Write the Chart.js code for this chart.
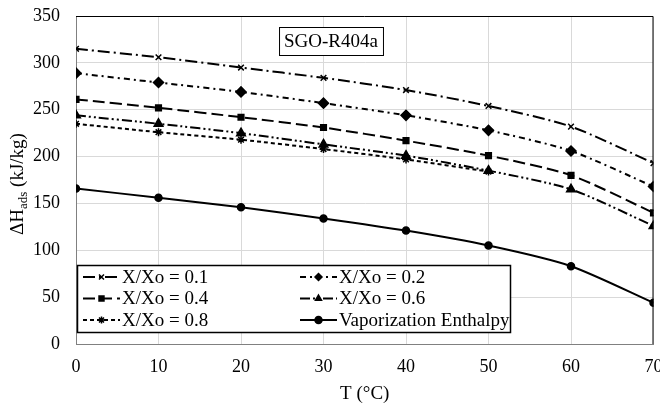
<!DOCTYPE html>
<html>
<head>
<meta charset="utf-8">
<script src="https://cdn.jsdelivr.net/npm/chart.js@4.4.1/dist/chart.umd.min.js"></script>
<style>
  html, body { margin: 0; padding: 0; background: #fff; }
  #wrap { width: 660px; height: 405px; }
</style>
</head>
<body>
<div id="wrap"><canvas id="enthalpyChart" width="660" height="405"></canvas></div>
<script>
// temperatures (°C)
const temps = [0, 10, 20, 30, 40, 50, 60, 70];

// adsorption enthalpy (kJ/kg) per loading ratio
const x01 = [315, 306, 295, 284, 271, 254, 232, 193];
const x02 = [289, 279, 269, 257, 244, 228, 206, 168];
const x04 = [261, 252, 242, 231, 217, 201, 180, 140];
const x06 = [244, 235, 225, 213, 201, 185, 165, 126];
const x08 = [235, 226, 218, 208, 197, 184];
const vapEnthalpy = [166, 156, 146, 134, 121, 105, 83, 44];

const yTicks = [0, 50, 100, 150, 200, 250, 300, 350];

const FONT = "'Liberation Serif', 'Times New Roman', serif";

function pts(vals) {
    return vals.map((v, i) => ({ x: temps[i], y: v }));
}

function series(label, vals, style, radius, dash) {
    return {
        label: label,
        data: pts(vals),
        borderColor: '#000',
        backgroundColor: '#000',
        borderWidth: 2,
        borderDash: dash,
        pointStyle: style,
        pointRadius: radius,
        pointBorderWidth: 1.5,
        pointBorderColor: '#000',
        pointBackgroundColor: '#000',
        tension: 0.25,
        fill: false
    };
}

// **Legend dalam kotak + judul kecil**
const boxesPlugin = {
    id: 'boxes',
    afterDatasetsDraw(chart) {
        const c = chart.ctx;
        const area = chart.chartArea;

        // plot border
        c.save();
        c.strokeStyle = '#000';
        c.lineWidth = 1;
        c.beginPath();
        c.moveTo(area.left, area.top + 0.5);
        c.lineTo(area.right - 0.5, area.top + 0.5);
        c.lineTo(area.right - 0.5, area.bottom);
        c.stroke();

        // label box
        c.font = '19px ' + FONT;
        c.textAlign = 'center';
        c.textBaseline = 'middle';
        const label = 'SGO-R404a';
        const w = c.measureText(label).width + 10;
        const cx = 331, cy = 41;
        c.fillStyle = '#fff';
        c.fillRect(cx - w / 2, cy - 14, w, 28);
        c.strokeRect(cx - w / 2 + 0.5, cy - 14 + 0.5, w, 28);
        c.fillStyle = '#000';
        c.fillText(label, cx, cy + 1);

        // legend
        const lx = 77, ly = 265, lw = 433, lh = 67;
        c.fillStyle = '#fff';
        c.fillRect(lx, ly, lw, lh);
        c.lineWidth = 1.5;
        c.strokeRect(lx + 0.5, ly + 0.5, lw, lh);

        const cols = [83, 300];
        const rows = [277, 298.5, 320];
        chart.data.datasets.forEach((ds, i) => {
            const x = cols[i % 2];
            const y = rows[Math.floor(i / 2)];
            c.save();
            c.strokeStyle = '#000';
            c.lineWidth = 2;
            c.setLineDash(ds.borderDash || []);
            c.beginPath();
            c.moveTo(x, y);
            c.lineTo(x + 37, y);
            c.stroke();
            c.restore();
            Chart.helpers.drawPoint(c, {
                pointStyle: ds.pointStyle,
                radius: Math.min(ds.pointRadius, 3.5),
                rotation: 0,
                borderWidth: 1.5
            }, x + 18.5, y);
            c.fillStyle = '#000';
            c.font = '19px ' + FONT;
            c.textAlign = 'left';
            c.textBaseline = 'middle';
            c.fillText(ds.label, x + 39, y + 1);
        });

        // y axis title with subscript
        c.save();
        c.translate(18, 184);
        c.rotate(-Math.PI / 2);
        c.fillStyle = '#000';
        c.textBaseline = 'middle';
        c.textAlign = 'left';
        const p1 = '\u0394H', p2 = 'ads', p3 = ' (kJ/kg)';
        c.font = '19px ' + FONT;
        const w1 = c.measureText(p1).width;
        const w3 = c.measureText(p3).width;
        c.font = '13px ' + FONT;
        const w2 = c.measureText(p2).width;
        let sx = -(w1 + w2 + w3) / 2;
        c.font = '19px ' + FONT;
        c.fillText(p1, sx, 0);
        c.font = '13px ' + FONT;
        c.fillText(p2, sx + w1, 6);
        c.font = '19px ' + FONT;
        c.fillText(p3, sx + w1 + w2, 0);
        c.restore();
        c.restore();
    }
};

let ctx = document.getElementById('enthalpyChart').getContext('2d');
let chart = new Chart(ctx, {
    type: 'line',
    data: {
        datasets: [
            series('X/Xo = 0.1', x01, 'crossRot', 4, [12, 4, 2, 4]),
            series('X/Xo = 0.2', x02, 'rectRot', 5, [6, 4, 2, 4]),
            series('X/Xo = 0.4', x04, 'rect', 4, [12, 5]),
            series('X/Xo = 0.6', x06, 'triangle', 5, [10, 3, 2, 3, 2, 3]),
            series('X/Xo = 0.8', x08, 'star', 4, [4, 3]),
            series('Vaporization Enthalpy', vapEnthalpy, 'circle', 3.5, [])
        ]
    },
    options: {
        responsive: false,
        animation: false,
        layout: { padding: { left: 0, right: 6, top: 16, bottom: 0 } },
        plugins: {
            legend: { display: false },
            tooltip: { enabled: false }
        },
        scales: {
            x: {
                type: 'linear',
                min: 0,
                max: 70,
                afterBuildTicks: (s) => { s.ticks = temps.map(v => ({ value: v })); },
                grid: { color: '#d9d9d9', drawTicks: false },
                border: { color: '#808080', width: 1 },
                ticks: { color: '#000', padding: 12, font: { family: FONT, size: 18 } },
                title: { display: true, text: 'T (\u00B0C)', color: '#000', padding: { top: 2, bottom: 0 }, font: { family: FONT, size: 19 } },
                afterFit: (s) => { s.height = 61; s.paddingLeft = 0; s.paddingRight = 0; }
            },
            y: {
                min: 0,
                max: 350,
                afterBuildTicks: (s) => { s.ticks = yTicks.map(v => ({ value: v })); },
                grid: { color: '#d9d9d9', drawTicks: false },
                border: { color: '#808080', width: 1 },
                ticks: { color: '#000', padding: 16, font: { family: FONT, size: 18 } },
                afterFit: (s) => { s.width = 76; s.paddingTop = 0; s.paddingBottom = 0; }
            }
        }
    },
    plugins: [boxesPlugin]
});
</script>
</body>
</html>
